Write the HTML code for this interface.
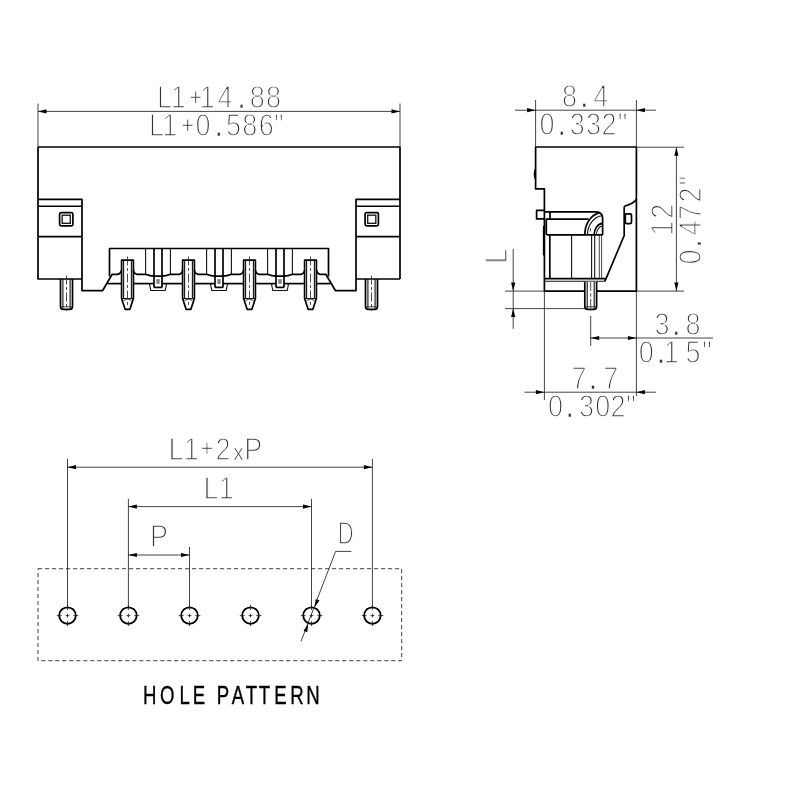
<!DOCTYPE html>
<html lang="en"><head><meta charset="utf-8"><title>Hole pattern drawing</title>
<style>
html,body{margin:0;padding:0;background:#fff}
body{width:800px;height:800px;overflow:hidden}
svg{display:block}
.o{fill:none;stroke:#000;stroke-width:1.7;stroke-linejoin:round;stroke-linecap:butt}
.m{fill:none;stroke:#111;stroke-width:1.1}
.t{fill:none;stroke:#222;stroke-width:0.85}
.c{fill:none;stroke:#222;stroke-width:0.8;stroke-dasharray:9 2.5 3 2.5}
.a{fill:#000;stroke:none}
text{font-family:"Liberation Sans",sans-serif}
.d{fill:#333;stroke:#fff;stroke-width:1.4px;paint-order:fill stroke}
.p{stroke-width:.3px}
.q{stroke-width:.7px;font-size:24px}
.xs{stroke-width:.75px;font-size:22.5px}
.h{fill:#000;stroke:#000;stroke-width:.4px}
</style></head><body>
<svg width="800" height="800" viewBox="0 0 800 800">
<rect width="800" height="800" fill="#fff"/>
<g id="labels" opacity="0.999">
<text id="t1" class="d" transform="scale(0.885,1)" x="185.88 201.36 221.24 234.12 254.24 272.99 290.73 309.04" y="107.6 107.6 105.3 107.6 107.6 107.6 107.6 107.6" font-size="30.6" text-anchor="middle">L1<tspan class="q">+</tspan>14<tspan class="p">.</tspan>88</text>
<text id="t2" class="d" transform="scale(0.885,1)" x="176.84 191.75 212.09 229.38 247.12 263.84 282.26 300.90 314.92" y="135.6 135.6 133.3 135.6 135.6 135.6 135.6 135.6 135.6" font-size="30.6" text-anchor="middle">L1<tspan class="q">+</tspan>0<tspan class="p">.</tspan>586&quot;</text>
<text id="t3" class="d" transform="scale(0.885,1)" x="643.62 660.11 678.87" y="106.6 106.6 106.6" font-size="30.6" text-anchor="middle">8<tspan class="p">.</tspan>4</text>
<text id="t4" class="d" transform="scale(0.885,1)" x="618.08 634.80 652.32 670.62 688.14 703.39" y="134.9 134.9 134.9 134.9 134.9 134.9" font-size="30.6" text-anchor="middle">0<tspan class="p">.</tspan>332&quot;</text>
<text id="t5" class="d" transform="scale(0.885,1)" x="748.02 764.29 783.05" y="334.6 334.6 334.6" font-size="30.6" text-anchor="middle">3<tspan class="p">.</tspan>8</text>
<text id="t6" class="d" transform="scale(0.885,1)" x="730.40 746.89 758.42 783.05 798.87" y="362.9 362.9 362.9 362.9 362.9" font-size="30.6" text-anchor="middle">0<tspan class="p">.</tspan>15&quot;</text>
<text id="t7" class="d" transform="scale(0.885,1)" x="654.24 670.06 690.06" y="388.7 388.7 388.7" font-size="30.6" text-anchor="middle">7<tspan class="p">.</tspan>7</text>
<text id="t8" class="d" transform="scale(0.885,1)" x="627.80 643.84 662.71 681.02 698.31 712.99" y="417.0 417.0 417.0 417.0 417.0 417.0" font-size="30.6" text-anchor="middle">0<tspan class="p">.</tspan>302&quot;</text>
<text id="t9" class="d" transform="scale(0.885,1)" x="198.87 216.05 233.90 251.98 269.49 286.33" y="460.0 460.0 456.2 460.0 460.0 460.0" font-size="30.6" text-anchor="middle">L1<tspan class="q">+</tspan>2<tspan class="xs">x</tspan>P</text>
<text id="t10" class="d" transform="scale(0.885,1)" x="238.42 255.59" y="499.2 499.2" font-size="30.6" text-anchor="middle">L1</text>
<text id="t11" class="d" transform="scale(0.885,1)" x="179.66" y="546.6" font-size="30.6" text-anchor="middle">P</text>
<text id="t12" class="d" transform="scale(0.72,1)" x="480.00" y="544.2" font-size="30.6" text-anchor="middle">D</text>
<text id="t13" class="d" transform="rotate(-90) scale(0.885,1)" x="-289.49" y="507.4" font-size="30.6" text-anchor="middle">L</text>
<text id="t14" class="d" transform="rotate(-90) scale(0.885,1)" x="-257.97 -238.76" y="673.5" font-size="30.6" text-anchor="middle">12</text>
<text id="t15" class="d" transform="rotate(-90) scale(0.885,1)" x="-290.40 -275.14 -257.63 -240.11 -220.34 -203.95" y="701.5" font-size="30.6" text-anchor="middle">0<tspan class="p">.</tspan>472&quot;</text>
<text id="t16" class="h" transform="scale(0.71,1)" x="210.9 235.4 260.2 280.4 297.2 314.1 335.1 354.1 372.4 394.9 418.2 440.8" y="704.3" font-size="26.2" text-anchor="middle">HOLE PATTERN</text>
</g>
<g id="geometry">
<path class="o" d="M38 147H400V279 M38 147V279H82 M356 279H400"/>
<path class="o" d="M38.0 199.4H82.0V290.7H102.5L112.2 274.3H117.5Q120.8 274 121.4 270.2"/>
<path class="o" style="stroke-width:1.35" d="M38.0 206.2H82.0"/>
<path class="o" d="M38.0 236.6L82.0 236.6"/>
<rect class="o" x="59.599999999999994" y="212.7" width="13.300000000000011" height="13.1" rx="1.6"/>
<rect class="m" style="stroke-width:1.3" x="62.19999999999999" y="215.2" width="8.100000000000023" height="8.1"/>
<path class="o" d="M219.0 248.5H109.5V276.5"/>
<path class="o" d="M107.6 283.6L121.5 283.6"/>
<path class="o" d="M60.5 279V306.5Q60.5 309.4 63.3 309.4H69.7Q72.5 309.4 72.5 306.5V279"/>
<path class="m" d="M62.9 279L62.9 308.5"/>
<path class="m" d="M70.1 279L70.1 308.5"/>
<path class="t" d="M61.0 306.8L72.0 306.8"/>
<path class="c" d="M66.5 275.5V311"/>
<path class="o" d="M400.0 199.4H356.0V290.7H335.5L325.8 274.3H320.5Q317.2 274 316.6 270.2"/>
<path class="o" style="stroke-width:1.35" d="M400.0 206.2H356.0"/>
<path class="o" d="M400.0 236.6L356.0 236.6"/>
<rect class="o" x="365.1" y="212.7" width="13.299999999999955" height="13.1" rx="1.6"/>
<rect class="m" style="stroke-width:1.3" x="367.7" y="215.2" width="8.100000000000023" height="8.1"/>
<path class="o" d="M219.0 248.5H328.5V276.5"/>
<path class="o" d="M330.4 283.6L316.5 283.6"/>
<path class="o" d="M365.5 279V306.5Q365.5 309.4 368.3 309.4H374.7Q377.5 309.4 377.5 306.5V279"/>
<path class="m" d="M367.9 279L367.9 308.5"/>
<path class="m" d="M375.1 279L375.1 308.5"/>
<path class="t" d="M366.0 306.8L377.0 306.8"/>
<path class="c" d="M371.5 275.5V311"/>
<path class="o" d="M121.6 298.6V260.2H133.4V298.6L129.9 309.3H125.1Z"/>
<path class="m" d="M123.6 260.2L123.6 298.6"/>
<path class="m" d="M131.4 260.2L131.4 298.6"/>
<path class="m" d="M121.6 298.6H133.4"/>
<path class="t" d="M123.6 300.5L127.5 298.8L131.4 300.5"/>
<path class="c" d="M127.5 256.5V307"/>
<path class="o" d="M182.6 298.6V260.2H194.4V298.6L190.9 309.3H186.1Z"/>
<path class="m" d="M184.6 260.2L184.6 298.6"/>
<path class="m" d="M192.4 260.2L192.4 298.6"/>
<path class="m" d="M182.6 298.6H194.4"/>
<path class="t" d="M184.6 300.5L188.5 298.8L192.4 300.5"/>
<path class="c" d="M188.5 256.5V307"/>
<path class="o" d="M243.6 298.6V260.2H255.4V298.6L251.9 309.3H247.1Z"/>
<path class="m" d="M245.6 260.2L245.6 298.6"/>
<path class="m" d="M253.4 260.2L253.4 298.6"/>
<path class="m" d="M243.6 298.6H255.4"/>
<path class="t" d="M245.6 300.5L249.5 298.8L253.4 300.5"/>
<path class="c" d="M249.5 256.5V307"/>
<path class="o" d="M304.6 298.6V260.2H316.4V298.6L312.9 309.3H308.1Z"/>
<path class="m" d="M306.6 260.2L306.6 298.6"/>
<path class="m" d="M314.4 260.2L314.4 298.6"/>
<path class="m" d="M304.6 298.6H316.4"/>
<path class="t" d="M306.6 300.5L310.5 298.8L314.4 300.5"/>
<path class="c" d="M310.5 256.5V307"/>
<path class="o" d="M133.4 270.2Q134.0 274 137.0 274.3H145.6Q150.0 276.2 154.0 276.2H162.0Q166.0 276.2 170.4 274.3H179.0Q182.0 274 182.6 270.2"/>
<path class="m" d="M145.6 248.5L145.6 274.3"/>
<path class="m" d="M170.4 248.5L170.4 274.3"/>
<path class="o" d="M154.0 248.5L154.0 287.4"/>
<path class="o" d="M162.0 248.5L162.0 287.4"/>
<path class="o" d="M154.0 287.4L162.0 287.4"/>
<path class="o" d="M133.4 283.6L154.0 283.6"/>
<path class="o" d="M162.0 283.6L182.6 283.6"/>
<path class="m" d="M149.4 283.6L150.8 290.5H165.2L166.6 283.6"/>
<rect x="156.8" y="279.6" width="2.4" height="4" fill="#888" stroke="#555" stroke-width="0.5"/>
<path class="o" d="M194.4 270.2Q195.0 274 198.0 274.3H206.6Q211.0 276.2 215.0 276.2H223.0Q227.0 276.2 231.4 274.3H240.0Q243.0 274 243.6 270.2"/>
<path class="m" d="M206.6 248.5L206.6 274.3"/>
<path class="m" d="M231.4 248.5L231.4 274.3"/>
<path class="o" d="M215.0 248.5L215.0 287.4"/>
<path class="o" d="M223.0 248.5L223.0 287.4"/>
<path class="o" d="M215.0 287.4L223.0 287.4"/>
<path class="o" d="M194.4 283.6L215.0 283.6"/>
<path class="o" d="M223.0 283.6L243.6 283.6"/>
<path class="m" d="M210.4 283.6L211.8 290.5H226.2L227.6 283.6"/>
<rect x="217.8" y="279.6" width="2.4" height="4" fill="#888" stroke="#555" stroke-width="0.5"/>
<path class="o" d="M255.4 270.2Q256.0 274 259.0 274.3H267.6Q272.0 276.2 276.0 276.2H284.0Q288.0 276.2 292.4 274.3H301.0Q304.0 274 304.6 270.2"/>
<path class="m" d="M267.6 248.5L267.6 274.3"/>
<path class="m" d="M292.4 248.5L292.4 274.3"/>
<path class="o" d="M276.0 248.5L276.0 287.4"/>
<path class="o" d="M284.0 248.5L284.0 287.4"/>
<path class="o" d="M276.0 287.4L284.0 287.4"/>
<path class="o" d="M255.4 283.6L276.0 283.6"/>
<path class="o" d="M284.0 283.6L304.6 283.6"/>
<path class="m" d="M271.4 283.6L272.8 290.5H287.2L288.6 283.6"/>
<rect x="278.8" y="279.6" width="2.4" height="4" fill="#888" stroke="#555" stroke-width="0.5"/>
<path class="t" d="M38 103.5L38 147"/>
<path class="t" d="M400 103.5L400 147"/>
<path class="t" d="M38 111.4L400 111.4"/>
<path class="a" d="M38.00 111.40L46.50 109.30L46.50 113.50Z"/>
<path class="a" d="M400.00 111.40L391.50 113.50L391.50 109.30Z"/>
<path class="o" d="M535.6 147H636.4V291.1H544.4V188.8H535.6Z"/>
<path class="o" d="M535.6 169Q533.4 174 535.6 179"/>
<path class="o" d="M544.4 210.3H536.6V218.9H544.4"/>
<path class="o" d="M544.4 211.9H596Q602.6 212.2 602.6 218V234.9"/>
<path class="o" d="M550 211.9L550 219"/>
<path class="o" d="M588.5 219.1H546.3V233.4Q546.3 234.9 548 234.9H602.6"/>
<path class="o" d="M584.9 234.9A19 22 0 0 1 599.5 212.6"/>
<path class="m" d="M587.4 234.9A16.5 19.5 0 0 1 602.4 215.6"/>
<path class="o" d="M594.1 234.9A9 11.5 0 0 1 602.6 223.4"/>
<path class="m" d="M596.4 234.9A6.5 9 0 0 1 602.6 226"/>
<path class="t" d="M590.4 228L590.4 231.5"/>
<path class="o" d="M543.7 226V255.5"/>
<path class="o" d="M549.8 234.9L549.8 278.7"/>
<path class="m" d="M571.6 234.9L571.6 278.7"/>
<path class="m" d="M591.6 234.9L591.6 278.7"/>
<path class="m" d="M594.7 234.9L594.7 278.7"/>
<path class="t" d="M599.3 234.9L599.3 278.7"/>
<path class="t" d="M601.6 234.9L601.6 278.7"/>
<path class="o" d="M544.4 278.7L606.2 278.7"/>
<path class="m" d="M544.4 281.3L604.9 281.3"/>
<path class="o" d="M636.4 198.8Q635.6 201.6 631 203.7T625.4 205.7Q624.2 206.1 624.2 207.5V235.5L604.9 281.3"/>
<rect class="o" x="625.3" y="213.9" width="6.2" height="9.7" rx="1.3"/>
<path class="o" style="fill:#fff" d="M584.8000000000001 281.7V306.5Q584.8000000000001 309.3 587.5 309.3H593.9000000000001Q596.6 309.3 596.6 306.5V281.7"/>
<path class="m" d="M587.2 281.7L587.2 308.5"/>
<path class="m" d="M594.2 281.7L594.2 308.5"/>
<path class="t" d="M585.3000000000001 306.8L596.1 306.8"/>
<path class="t" d="M590.7 316V346"/>
<path class="c" d="M590.7 282V311"/>
<path class="t" d="M535.6 100L535.6 147"/>
<path class="t" d="M636.4 100L636.4 147"/>
<path class="t" d="M515 110.2L656 110.2"/>
<path class="a" d="M535.60 110.20L527.10 112.30L527.10 108.10Z"/>
<path class="a" d="M636.40 110.20L644.90 108.10L644.90 112.30Z"/>
<path class="t" d="M636.4 147.2L684 147.2"/>
<path class="t" d="M636.4 291.1L684 291.1"/>
<path class="t" d="M676.4 147.2L676.4 291.1"/>
<path class="a" d="M676.40 147.20L678.50 155.70L674.30 155.70Z"/>
<path class="a" d="M676.40 291.10L674.30 282.60L678.50 282.60Z"/>
<path class="t" d="M505 291.1L544.4 291.1"/>
<path class="t" d="M505 308.6L585 308.6"/>
<path class="t" d="M513.2 248.8L513.2 328.8"/>
<path class="a" d="M513.20 291.10L511.10 282.60L515.30 282.60Z"/>
<path class="a" d="M513.20 308.60L515.30 317.10L511.10 317.10Z"/>
<path class="t" d="M636.4 291.1L636.4 396"/>
<path class="t" d="M590.7 338L713 338"/>
<path class="a" d="M590.70 338.00L599.20 335.90L599.20 340.10Z"/>
<path class="a" d="M636.40 338.00L627.90 340.10L627.90 335.90Z"/>
<path class="t" d="M544.4 291.1L544.4 400"/>
<path class="t" d="M524.5 392.2L656 392.2"/>
<path class="a" d="M544.40 392.20L535.90 394.30L535.90 390.10Z"/>
<path class="a" d="M636.40 392.20L644.90 390.10L644.90 394.30Z"/>
<rect x="38" y="568.7" width="363.7" height="92" fill="none" stroke="#444" stroke-width="1" stroke-dasharray="4.2 2.8"/>
<circle class="o" cx="67.5" cy="615.6" r="8.3" style="stroke-width:1.8"/>
<path class="t" d="M56.8 615.6H61.7M65.6 615.6H69.4M73.3 615.6H78.4M67.5 605.1V610.0M67.5 613.7V617.5M67.5 621.1V626.0"/>
<circle class="o" cx="128.4" cy="615.6" r="8.3" style="stroke-width:1.8"/>
<path class="t" d="M117.7 615.6H122.60000000000001M126.5 615.6H130.3M134.20000000000002 615.6H139.3M128.4 605.1V610.0M128.4 613.7V617.5M128.4 621.1V626.0"/>
<circle class="o" cx="189.5" cy="615.6" r="8.3" style="stroke-width:1.8"/>
<path class="t" d="M178.8 615.6H183.7M187.6 615.6H191.4M195.3 615.6H200.4M189.5 605.1V610.0M189.5 613.7V617.5M189.5 621.1V626.0"/>
<circle class="o" cx="250.5" cy="615.6" r="8.3" style="stroke-width:1.8"/>
<path class="t" d="M239.8 615.6H244.7M248.6 615.6H252.4M256.3 615.6H261.4M250.5 605.1V610.0M250.5 613.7V617.5M250.5 621.1V626.0"/>
<circle class="o" cx="311.5" cy="615.6" r="8.3" style="stroke-width:1.8"/>
<path class="t" d="M300.8 615.6H305.7M309.6 615.6H313.4M317.3 615.6H322.4M311.5 605.1V610.0M311.5 613.7V617.5M311.5 621.1V626.0"/>
<circle class="o" cx="372.4" cy="615.6" r="8.3" style="stroke-width:1.8"/>
<path class="t" d="M361.7 615.6H366.59999999999997M370.5 615.6H374.29999999999995M378.2 615.6H383.29999999999995M372.4 605.1V610.0M372.4 613.7V617.5M372.4 621.1V626.0"/>
<path class="t" d="M67.5 458.8L67.5 607"/>
<path class="t" d="M372.4 458.8L372.4 607"/>
<path class="t" d="M67.5 467.2L372.4 467.2"/>
<path class="a" d="M67.50 467.20L76.00 465.10L76.00 469.30Z"/>
<path class="a" d="M372.40 467.20L363.90 469.30L363.90 465.10Z"/>
<path class="t" d="M128.4 498.8L128.4 607"/>
<path class="t" d="M311.5 498.8L311.5 607"/>
<path class="t" d="M128.4 506.6L311.5 506.6"/>
<path class="a" d="M128.40 506.60L136.90 504.50L136.90 508.70Z"/>
<path class="a" d="M311.50 506.60L303.00 508.70L303.00 504.50Z"/>
<path class="t" d="M189.5 547L189.5 607"/>
<path class="t" d="M128.4 555L189.5 555"/>
<path class="a" d="M128.40 555.00L136.90 552.90L136.90 557.10Z"/>
<path class="a" d="M189.50 555.00L181.00 557.10L181.00 552.90Z"/>
<path class="t" d="M351.4 551.4H335.6L301 641.4"/>
<path class="a" d="M314.73 607.20L315.74 599.02L319.47 600.45Z"/>
<path class="a" d="M308.27 624.00L307.26 632.18L303.53 630.75Z"/>
</g>
</svg>
</body></html>
